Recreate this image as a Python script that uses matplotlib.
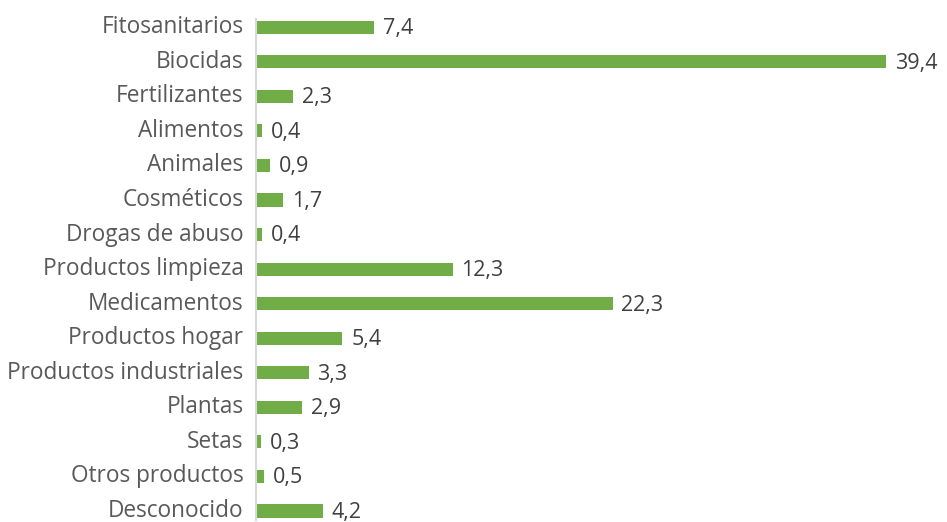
import matplotlib
matplotlib.use('Agg')
import matplotlib.pyplot as plt
import matplotlib.transforms as mtransforms

categorias = ['Fitosanitarios', 'Biocidas', 'Fertilizantes', 'Alimentos', 'Animales',
              'Cosméticos', 'Drogas de abuso', 'Productos limpieza', 'Medicamentos',
              'Productos hogar', 'Productos industriales', 'Plantas', 'Setas',
              'Otros productos', 'Desconocido']
valores = [7.4, 39.4, 2.3, 0.4, 0.9, 1.7, 0.4, 12.3, 22.3, 5.4, 3.3, 2.9, 0.3, 0.5, 4.2]

plt.rcParams['font.family'] = ['Open Sans', 'DejaVu Sans']

fig = plt.figure(figsize=(9.47, 5.22), dpi=100)
ax = fig.add_axes([256 / 947, 2.4 / 522, 630 / 947, 501 / 522])

y = list(range(len(categorias)))
ax.barh(y, valores, height=0.38, color='#70ad47')
ax.set_xlim(0, 39.4)
ax.set_ylim(14.25, -0.25)

for yi, v in zip(y, valores):
    ax.text(v + 0.55, yi + 0.04, f'{v:.1f}'.replace('.', ','), va='center', ha='left',
            fontsize=15.5, color='#404040', clip_on=False)

ax.set_yticks(y)
ax.set_yticklabels(categorias, fontsize=16.3, color='#595959')
ax.tick_params(axis='y', length=0, pad=9)
# etiquetas un poco por encima del centro de la barra
desplaza = mtransforms.ScaledTranslation(0, 3 / 100, fig.dpi_scale_trans)
for lab in ax.get_yticklabels():
    lab.set_transform(lab.get_transform() + desplaza)
ax.set_xticks([])
for s in ['top', 'right', 'bottom']:
    ax.spines[s].set_visible(False)
ax.spines['left'].set_color('#d9d9d9')
ax.spines['left'].set_linewidth(1.5)

fig.savefig('out.png', dpi=100)
